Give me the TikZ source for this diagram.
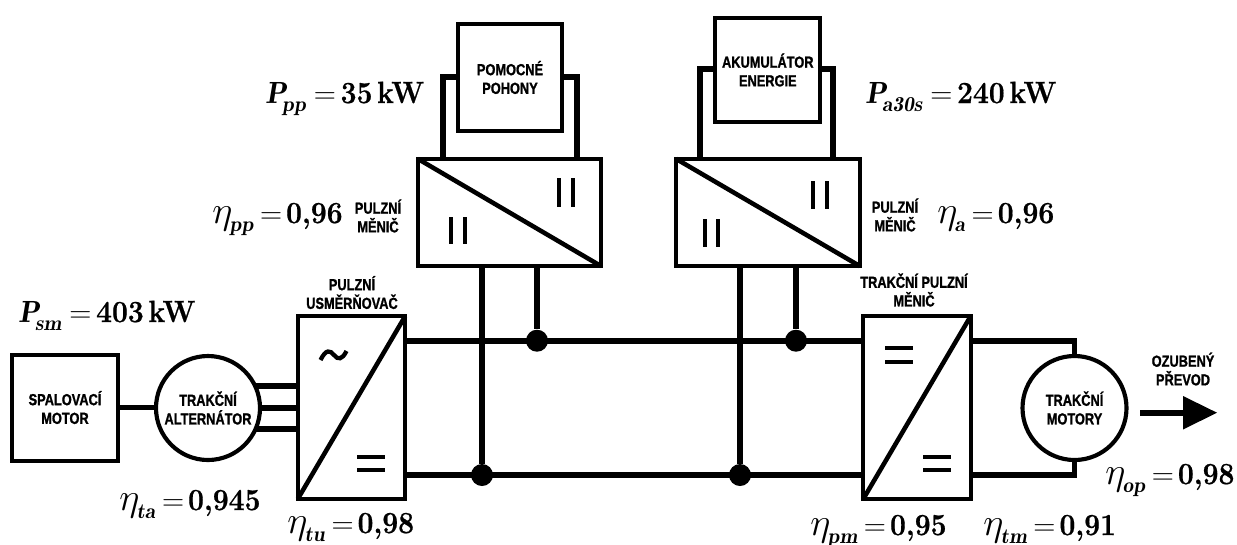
\RequirePackage{fix-cm}
\documentclass[tikz,border=0pt]{standalone}
\usepackage{fontspec}
\newfontfamily\capsfont[FakeStretch=0.8,FakeBold=1.2,UprightFont=* Bold]{Liberation Sans}
\newfontfamily\numfont[BoldFeatures={FakeBold=0.7}]{Latin Modern Roman}
\usetikzlibrary{calc}
\tikzset{
  x=0.75pt,y=-0.75pt,
  box/.style={draw=black,line width=3pt,fill=white,inner sep=0pt,outer sep=0pt,rectangle},
  machine/.style={draw=black,line width=3.1pt,fill=white,inner sep=0pt,outer sep=0pt,circle,minimum size=78pt},
  captext/.style={font=\capsfont\fontsize{12}{14}\selectfont,align=center,inner sep=0pt},
  wire/.style={line width=4.2pt,line cap=butt,line join=miter},
  diag/.style={line width=3.4pt},
  bar/.style={line width=3.3pt},
  junction/.style={circle,fill=black,inner sep=0pt,minimum size=16.5pt},
  qty/.style={anchor=base west,inner sep=0pt,font=\fontsize{23}{26}\selectfont}
}
\newcommand{\mySub}[1]{\raisebox{-6pt}{\fontsize{16}{16}\selectfont\boldmath$\mathit{#1}$}}
\newcommand{\myVal}[1]{\scalebox{0.92}[1]{\numfont\bfseries #1}}
\newcommand{\myP}[2]{{\boldmath$\mathit{P}$}\hspace{-3pt}\mySub{#1}\hspace{6pt}$=$\hspace{3.5pt}\myVal{#2}}
\newcommand{\myE}[2]{{\fontsize{29}{29}\selectfont$\eta$}\hspace{-2pt}\mySub{#1}\hspace{5pt}$=$\hspace{3pt}\myVal{#2}}
\begin{document}
\begin{tikzpicture}
\useasboundingbox (0,0) rectangle (1237,544);
% main blocks
\node[box,minimum width=80pt,minimum height=79.5pt,captext] (sm) at (65,407.5) {SPALOVACÍ\\MOTOR};
\node[machine,captext] (alt) at (208,408) {TRAKČNÍ\\ALTERNÁTOR};
\node[box,minimum width=80.5pt,minimum height=137pt] (usm) at (351.5,407.5) {};
\node[box,minimum width=80.5pt,minimum height=137pt] (tpm) at (917,407.5) {};
\node[machine,captext] (mot) at (1074.5,408) {TRAKČNÍ\\MOTORY};
\node[box,minimum width=137.5pt,minimum height=80.5pt] (mpp) at (509.5,212.5) {};
\node[box,minimum width=138pt,minimum height=80.5pt] (ma) at (768,212.5) {};
\coordinate (lpp) at (442.7,77);
\coordinate (rpp) at (576.7,77);
\coordinate (la) at (700,69);
\coordinate (ra) at (833,69);
\draw[wire] (lpp |- mpp.north) -- (lpp) -- (520,77);
\draw[wire] (rpp |- mpp.north) -- (rpp) -- (520,77);
\draw[wire] (la |- ma.north) -- (la) -- (770,69);
\draw[wire] (ra |- ma.north) -- (ra) -- (770,69);
\node[box,minimum width=78pt,minimum height=80pt,captext] (pp) at (510,77.5) {POMOCNÉ\\POHONY};
\node[box,minimum width=79pt,minimum height=78pt,captext] (ak) at (767.8,70) {AKUMULÁTOR\\ENERGIE};
% converter diagonals
\draw[diag] (usm.north east) -- (usm.south west);
\draw[diag] (tpm.north east) -- (tpm.south west);
\draw[diag] (mpp.north west) -- (mpp.south east);
\draw[diag] (ma.north west) -- (ma.south east);
% shaft and phases
\draw[wire] (sm.east) -- (sm.east -| alt.west);
\coordinate (ph1) at (255,386);
\coordinate (ph3) at (255,429);
\draw[wire] (ph1) -- (ph1 -| usm.west);
\draw[wire] (alt.east) -- (alt.east -| usm.west);
\draw[wire] (ph3) -- (ph3 -| usm.west);
% buses
\coordinate (bt) at (640,340.7);
\coordinate (bb) at (640,475);
\draw[wire] (bt -| usm.east) -- (bt -| tpm.west);
\draw[wire] (bb -| usm.east) -- (bb -| tpm.west);
\node[junction] (j1) at (482,475) {};
\node[junction] (j2) at (537,340.7) {};
\node[junction] (j3) at (740,475) {};
\node[junction] (j4) at (796,340.7) {};
\draw[wire] (mpp.south -| j1) -- (j1);
\draw[wire] (mpp.south -| j2) -- (j2);
\draw[wire] (ma.south -| j3) -- (j3);
\draw[wire] (ma.south -| j4) -- (j4);
% to motor
\draw[wire] (bt -| tpm.east) -- (bt -| mot.north) -- (mot.north);
\draw[wire] (bb -| tpm.east) -- (bb -| mot.south) -- (mot.south);
% output arrow
\coordinate (ao) at (1140,412.7);
\coordinate (ah) at (1217,412.7);
\fill (ao) ++(0,-3.2) rectangle ++(45,6.4);
\fill (1183,396) -- (ah) -- (1183,429.5) -- cycle;
% converter symbols
\draw[bar] (559,178) -- (559,207); \draw[bar] (573,178) -- (573,207);
\draw[bar] (451,217) -- (451,244); \draw[bar] (465,217) -- (465,244);
\draw[bar] (813,181) -- (813,209); \draw[bar] (827,181) -- (827,209);
\draw[bar] (705,219) -- (705,247); \draw[bar] (718,219) -- (718,247);
\draw[bar] (357,457) -- (385,457); \draw[bar] (357,470) -- (385,470);
\draw[bar] (885,348) -- (913,348); \draw[bar] (885,362) -- (913,362);
\draw[bar] (923,457) -- (951,457); \draw[bar] (923,470) -- (951,470);
\draw[line width=3.2pt] (320.5,360) .. controls (326,349) and (330,350) .. (334,355) .. controls (338,360) and (342,360) .. (346.5,351);
% labels
\node[captext] (l1) at (352,292.5) {PULZNÍ\\USMĚRŇOVAČ};
\node[captext] (l2) at (914,290) {TRAKČNÍ PULZNÍ\\MĚNIČ};
\node[captext] (l3) at (378,216) {PULZNÍ\\MĚNIČ};
\node[captext] (l4) at (895,215) {PULZNÍ\\MĚNIČ};
\node[captext] (l5) at (1183,369) {OZUBENÝ\\PŘEVOD};
\node[qty] (q1) at (18,322) {\myP{sm}{403\,kW}};
\node[qty] (q2) at (265,103) {\myP{pp}{35\,kW}};
\node[qty] (q3) at (865,103) {\myP{a30s}{240\,kW}};
\node[qty] (e1) at (119,510) {\myE{ta}{0,945}};
\node[qty] (e2) at (287,533) {\myE{tu}{0,98}};
\node[qty] (e3) at (212,223) {\myE{pp}{0,96}};
\node[qty] (e4) at (937,223) {\myE{a}{0,96}};
\node[qty] (e5) at (810,535) {\myE{pm}{0,95}};
\node[qty] (e6) at (983,535) {\myE{tm}{0,91}};
\node[qty] (e7) at (1105,484) {\myE{op}{0,98}};
\end{tikzpicture}
\end{document}
